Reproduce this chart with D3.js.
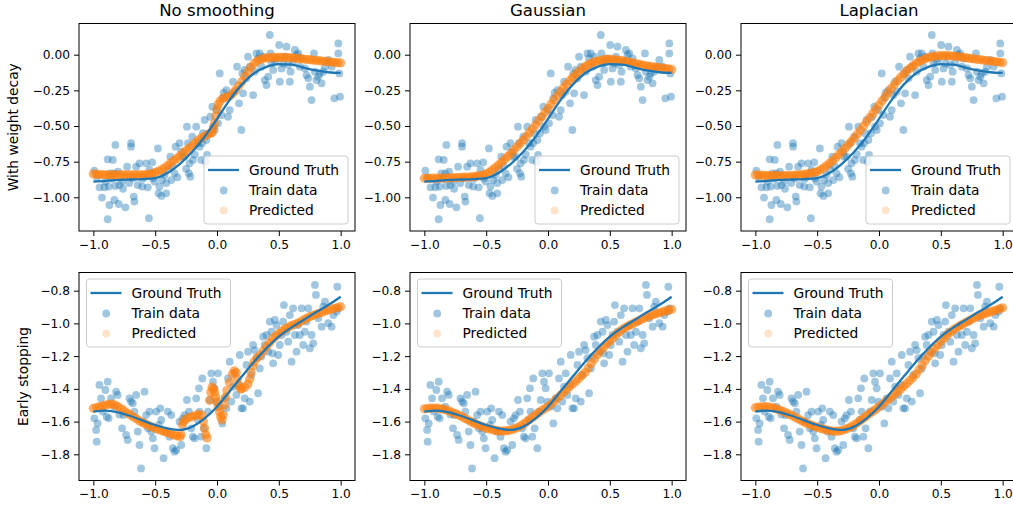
<!DOCTYPE html>
<html><head><meta charset="utf-8">
<script src="https://cdn.jsdelivr.net/npm/d3@7/dist/d3.min.js"></script>
<style>body{margin:0;background:#fff}svg{display:block}</style>
</head><body>
<svg id="c" width="1013" height="506"></svg>
<script>
// ---------- data ----------
const colTitles = ["No smoothing", "Gaussian", "Laplacian"];
const rowLabels = ["With weight decay", "Early stopping"];
const xTicks = [-1, -0.5, 0, 0.5, 1];
const yTicksTop = [0, -0.25, -0.5, -0.75, -1.0];
const yTicksBottom = [-0.8, -1.0, -1.2, -1.4, -1.6, -1.8];
const legendLabels = ["Ground Truth", "Train data", "Predicted"];

const gtX = [-1,-0.9,-0.8,-0.7,-0.6,-0.5,-0.4,-0.3,-0.2,-0.1,0,0.1,0.2,0.3,0.4,0.5,0.6,0.7,0.8,0.9,1];
const gtTopY = [-0.89,-0.885,-0.878,-0.875,-0.872,-0.865,-0.83,-0.765,-0.68,-0.575,-0.45,-0.32,-0.21,-0.13,-0.085,-0.066,-0.07,-0.09,-0.11,-0.123,-0.128];
const gtBottomY = [-1.539,-1.533,-1.543,-1.566,-1.594,-1.621,-1.641,-1.651,-1.631,-1.58,-1.509,-1.417,-1.325,-1.234,-1.152,-1.081,-1.026,-0.979,-0.932,-0.888,-0.837];

const trainTop = [[-0.992,-0.813],[-0.93,-1.002],[-0.903,-0.89],[-0.884,-0.734],[-0.876,-0.925],[-0.87,-1.054],[-0.862,-0.832],[-0.843,-0.738],[-0.83,-0.832],[-0.822,-0.633],[-0.822,-0.92],[-0.884,-1.154],[-0.83,-1.019],[-0.795,-1.047],[-0.789,-0.914],[-0.768,-0.89],[-0.741,-1.07],[-0.727,-0.785],[-0.695,-0.621],[-0.695,-0.645],[-0.681,-0.867],[-0.673,-0.995],[-0.668,-1.03],[-0.654,-0.785],[-0.641,-0.914],[-0.627,-0.762],[-0.605,-0.925],[-0.586,-0.855],[-0.573,-0.762],[-0.551,-1.147],[-0.546,-0.808],[-0.524,-0.755],[-0.519,-0.867],[-0.505,-0.89],[-0.478,-0.657],[-0.473,-0.972],[-0.465,-0.925],[-0.443,-0.879],[-0.424,-0.843],[-0.411,-0.972],[-0.397,-0.804],[-0.378,-0.715],[-0.37,-0.879],[-0.343,-0.832],[-0.335,-0.645],[-0.303,-0.621],[-0.289,-0.68],[-0.281,-0.715],[-0.262,-0.715],[-0.243,-0.505],[-0.235,-0.621],[-0.227,-0.832],[-0.222,-0.762],[-0.216,-0.855],[-0.2,-0.575],[-0.195,-0.738],[-0.168,-0.505],[-0.154,-0.621],[-0.141,-0.645],[-0.127,-0.738],[-0.114,-0.551],[-0.1,-0.458],[-0.086,-0.598],[-0.081,-0.703],[-0.065,-0.551],[-0.054,-0.435],[-0.038,-0.364],[-0.032,-0.505],[-0.019,-0.528],[-0.005,-0.388],[0.008,-0.481],[0.022,-0.131],[0.035,-0.423],[0.043,-0.306],[0.054,-0.266],[0.076,-0.248],[0.089,-0.435],[0.103,-0.388],[0.116,-0.283],[0.13,-0.189],[0.143,-0.259],[0.162,-0.084],[0.178,-0.341],[0.197,-0.528],[0.205,-0.131],[0.211,-0.271],[0.224,-0.107],[0.238,-0.166],[0.251,-0.014],[0.265,-0.084],[0.292,-0.283],[0.305,-0.119],[0.319,0.009],[0.332,-0.026],[0.346,0.009],[0.359,-0.084],[0.373,-0.014],[0.386,-0.178],[0.4,-0.213],[0.414,-0.154],[0.427,0.138],[0.432,0.009],[0.441,-0.061],[0.454,-0.107],[0.468,-0.049],[0.481,-0.026],[0.503,0.068],[0.508,-0.189],[0.522,-0.096],[0.535,-0.061],[0.549,-0.014],[0.562,0.056],[0.576,-0.072],[0.589,-0.189],[0.595,-0.119],[0.616,-0.049],[0.63,0.033],[0.643,-0.002],[0.657,0.009],[0.67,-0.084],[0.684,-0.026],[0.711,-0.096],[0.724,-0.143],[0.738,-0.166],[0.751,-0.224],[0.765,-0.318],[0.784,0.009],[0.792,-0.119],[0.805,-0.178],[0.819,-0.154],[0.832,-0.131],[0.846,-0.201],[0.859,-0.119],[0.873,-0.084],[0.9,-0.037],[0.927,-0.084],[0.949,-0.306],[0.981,0.079],[0.981,0.009],[0.989,-0.131],[0.995,-0.294],[-0.97,-0.86],[-0.95,-0.93],[-0.91,-0.93],[-0.85,-0.87],[-0.8,-0.82],[-0.76,-0.94],[-0.71,-0.9],[-0.6,-0.87],[-0.56,-0.93],[-0.45,-0.99],[-0.41,-0.9],[-0.36,-0.78],[-0.32,-0.86],[-0.25,-0.8],[-0.18,-0.7],[-0.12,-0.62],[-0.09,-0.75]];

const trainBottom = [[-0.992,-1.58],[-0.978,-1.651],[-0.973,-1.723],[-0.965,-1.611],[-0.951,-1.376],[-0.938,-1.458],[-0.924,-1.539],[-0.903,-1.407],[-0.892,-1.57],[-0.884,-1.356],[-0.876,-1.58],[-0.857,-1.458],[-0.83,-1.509],[-0.816,-1.417],[-0.803,-1.437],[-0.789,-1.556],[-0.768,-1.641],[-0.757,-1.56],[-0.735,-1.682],[-0.722,-1.712],[-0.708,-1.458],[-0.695,-1.478],[-0.681,-1.488],[-0.668,-1.539],[-0.654,-1.437],[-0.641,-1.661],[-0.627,-1.743],[-0.614,-1.886],[-0.6,-1.6],[-0.586,-1.417],[-0.573,-1.56],[-0.559,-1.641],[-0.546,-1.539],[-0.532,-1.661],[-0.519,-1.702],[-0.505,-1.763],[-0.492,-1.539],[-0.47,-1.621],[-0.459,-1.519],[-0.451,-1.59],[-0.432,-1.824],[-0.416,-1.661],[-0.397,-1.539],[-0.384,-1.692],[-0.37,-1.56],[-0.357,-1.763],[-0.343,-1.784],[-0.33,-1.774],[-0.303,-1.6],[-0.289,-1.743],[-0.276,-1.58],[-0.262,-1.56],[-0.243,-1.468],[-0.227,-1.539],[-0.208,-1.641],[-0.195,-1.692],[-0.181,-1.702],[-0.168,-1.458],[-0.154,-1.59],[-0.146,-1.397],[-0.141,-1.539],[-0.127,-1.692],[-0.119,-1.336],[-0.108,-1.641],[-0.086,-1.763],[-0.073,-1.539],[-0.059,-1.468],[-0.046,-1.305],[-0.032,-1.356],[-0.019,-1.397],[-0.005,-1.478],[0.008,-1.305],[0.022,-1.509],[0.043,-1.611],[0.062,-1.458],[0.076,-1.519],[0.089,-1.336],[0.103,-1.234],[0.116,-1.478],[0.13,-1.387],[0.143,-1.305],[0.157,-1.437],[0.178,-1.376],[0.184,-1.193],[0.197,-1.519],[0.211,-1.519],[0.224,-1.458],[0.238,-1.254],[0.251,-1.173],[0.265,-1.478],[0.278,-1.315],[0.292,-1.132],[0.305,-1.163],[0.319,-1.213],[0.332,-1.427],[0.346,-1.275],[0.359,-1.203],[0.373,-1.081],[0.386,-1.132],[0.4,-1.071],[0.414,-1.173],[0.427,-0.989],[0.441,-1.051],[0.449,-1.183],[0.454,-1.244],[0.468,-0.979],[0.481,-1.01],[0.495,-1.193],[0.508,-1.132],[0.522,-1.071],[0.535,-0.989],[0.541,-0.888],[0.562,-1.051],[0.576,-1.112],[0.589,-0.949],[0.603,-1.234],[0.616,-0.908],[0.63,-1.071],[0.643,-1.173],[0.657,-1.01],[0.67,-1.071],[0.684,-0.908],[0.697,-1.132],[0.711,-1.051],[0.724,-0.989],[0.738,-0.908],[0.751,-1.152],[0.765,-1.071],[0.778,-1.122],[0.792,-0.765],[0.8,-0.826],[0.819,-0.969],[0.846,-1.02],[0.859,-0.898],[0.873,-0.867],[0.9,-0.999],[0.927,-1.02],[0.941,-0.949],[0.968,-0.928],[0.973,-0.776],[0.981,-0.908]];

const predX = [-1,-0.975,-0.95,-0.925,-0.9,-0.875,-0.85,-0.825,-0.8,-0.775,-0.75,-0.725,-0.7,-0.675,-0.65,-0.625,-0.6,-0.575,-0.55,-0.525,-0.5,-0.475,-0.45,-0.425,-0.4,-0.375,-0.35,-0.325,-0.3,-0.275,-0.25,-0.225,-0.2,-0.175,-0.15,-0.125,-0.1,-0.075,-0.05,-0.025,0,0.025,0.05,0.075,0.1,0.125,0.15,0.175,0.2,0.225,0.25,0.275,0.3,0.325,0.35,0.375,0.4,0.425,0.45,0.475,0.5,0.525,0.55,0.575,0.6,0.625,0.65,0.675,0.7,0.725,0.75,0.775,0.8,0.825,0.85,0.875,0.9,0.925,0.95,0.975,1];

const predTopGaussY = [-0.867,-0.867,-0.867,-0.866,-0.866,-0.866,-0.865,-0.865,-0.864,-0.863,-0.862,-0.861,-0.86,-0.859,-0.858,-0.857,-0.855,-0.852,-0.848,-0.843,-0.836,-0.824,-0.808,-0.791,-0.773,-0.754,-0.734,-0.713,-0.692,-0.669,-0.646,-0.622,-0.598,-0.572,-0.546,-0.52,-0.493,-0.464,-0.435,-0.405,-0.376,-0.346,-0.317,-0.288,-0.259,-0.232,-0.206,-0.182,-0.159,-0.138,-0.118,-0.1,-0.084,-0.071,-0.06,-0.051,-0.044,-0.039,-0.035,-0.033,-0.033,-0.034,-0.036,-0.039,-0.042,-0.047,-0.052,-0.056,-0.061,-0.066,-0.07,-0.075,-0.079,-0.082,-0.085,-0.088,-0.091,-0.094,-0.097,-0.1,-0.103];
const predTopLapY = [-0.843,-0.844,-0.845,-0.846,-0.847,-0.847,-0.848,-0.848,-0.848,-0.848,-0.848,-0.847,-0.846,-0.845,-0.843,-0.841,-0.838,-0.835,-0.831,-0.826,-0.82,-0.808,-0.795,-0.779,-0.762,-0.743,-0.722,-0.701,-0.68,-0.657,-0.634,-0.61,-0.586,-0.558,-0.529,-0.5,-0.47,-0.441,-0.412,-0.382,-0.353,-0.323,-0.294,-0.265,-0.236,-0.209,-0.183,-0.159,-0.136,-0.115,-0.095,-0.077,-0.061,-0.048,-0.037,-0.028,-0.021,-0.015,-0.011,-0.008,-0.007,-0.007,-0.007,-0.008,-0.009,-0.012,-0.015,-0.018,-0.021,-0.024,-0.027,-0.03,-0.033,-0.036,-0.039,-0.041,-0.044,-0.047,-0.05,-0.053,-0.056];
const predBottomGaussY = [-1.522,-1.52,-1.518,-1.517,-1.518,-1.52,-1.524,-1.529,-1.535,-1.543,-1.551,-1.56,-1.569,-1.579,-1.589,-1.6,-1.61,-1.618,-1.626,-1.633,-1.64,-1.645,-1.65,-1.654,-1.657,-1.658,-1.657,-1.655,-1.651,-1.645,-1.637,-1.627,-1.616,-1.602,-1.588,-1.573,-1.559,-1.546,-1.533,-1.52,-1.508,-1.492,-1.475,-1.458,-1.44,-1.422,-1.405,-1.387,-1.37,-1.353,-1.336,-1.318,-1.3,-1.273,-1.245,-1.217,-1.19,-1.167,-1.145,-1.126,-1.108,-1.089,-1.07,-1.052,-1.037,-1.026,-1.016,-1.006,-0.996,-0.987,-0.978,-0.969,-0.961,-0.954,-0.947,-0.941,-0.935,-0.929,-0.924,-0.919,-0.914];
const predBottomLapY = [-1.515,-1.512,-1.51,-1.509,-1.51,-1.513,-1.518,-1.523,-1.53,-1.538,-1.547,-1.556,-1.565,-1.575,-1.585,-1.595,-1.605,-1.613,-1.621,-1.628,-1.635,-1.641,-1.646,-1.651,-1.655,-1.658,-1.66,-1.658,-1.655,-1.648,-1.64,-1.631,-1.62,-1.607,-1.593,-1.579,-1.565,-1.551,-1.537,-1.524,-1.51,-1.495,-1.48,-1.465,-1.45,-1.434,-1.418,-1.401,-1.385,-1.367,-1.349,-1.33,-1.31,-1.283,-1.255,-1.227,-1.2,-1.177,-1.154,-1.132,-1.11,-1.091,-1.072,-1.055,-1.04,-1.028,-1.017,-1.006,-0.995,-0.985,-0.975,-0.965,-0.955,-0.948,-0.942,-0.936,-0.93,-0.924,-0.918,-0.911,-0.905];

const predTopNone = [[-1,-0.836],[-0.975,-0.838],[-0.95,-0.84],[-0.925,-0.84],[-0.9,-0.842],[-0.875,-0.842],[-0.85,-0.843],[-0.825,-0.843],[-0.8,-0.843],[-0.775,-0.843],[-0.75,-0.843],[-0.725,-0.843],[-0.7,-0.843],[-0.675,-0.843],[-0.65,-0.843],[-0.625,-0.842],[-0.6,-0.842],[-0.575,-0.84],[-0.55,-0.838],[-0.525,-0.834],[-0.5,-0.826],[-0.475,-0.818],[-0.45,-0.808],[-0.425,-0.793],[-0.4,-0.778],[-0.375,-0.76],[-0.35,-0.743],[-0.325,-0.727],[-0.3,-0.71],[-0.275,-0.69],[-0.25,-0.673],[-0.225,-0.655],[-0.2,-0.638],[-0.175,-0.618],[-0.15,-0.598],[-0.125,-0.583],[-0.1,-0.57],[-0.075,-0.56],[-0.05,-0.551],[-0.04,-0.545],[-0.03,-0.52],[-0.02,-0.48],[-0.01,-0.43],[0,-0.38],[0.01,-0.35],[0.025,-0.325],[0.05,-0.306],[0.075,-0.298],[0.1,-0.292],[0.125,-0.272],[0.15,-0.248],[0.175,-0.22],[0.2,-0.189],[0.225,-0.153],[0.25,-0.119],[0.275,-0.088],[0.3,-0.061],[0.325,-0.045],[0.35,-0.033],[0.375,-0.027],[0.4,-0.023],[0.425,-0.02],[0.45,-0.019],[0.475,-0.019],[0.5,-0.019],[0.525,-0.019],[0.55,-0.019],[0.575,-0.02],[0.6,-0.021],[0.625,-0.023],[0.65,-0.026],[0.675,-0.028],[0.7,-0.03],[0.725,-0.033],[0.75,-0.035],[0.775,-0.038],[0.8,-0.04],[0.825,-0.042],[0.85,-0.044],[0.875,-0.047],[0.9,-0.049],[0.925,-0.052],[0.95,-0.054],[0.975,-0.056],[1,-0.058]];

const predBottomNone = [[-1,-1.519],[-0.975,-1.514],[-0.95,-1.509],[-0.925,-1.504],[-0.9,-1.499],[-0.875,-1.494],[-0.85,-1.493],[-0.825,-1.499],[-0.8,-1.509],[-0.775,-1.522],[-0.75,-1.535],[-0.725,-1.548],[-0.7,-1.56],[-0.675,-1.572],[-0.65,-1.584],[-0.625,-1.596],[-0.6,-1.607],[-0.575,-1.616],[-0.55,-1.625],[-0.525,-1.633],[-0.5,-1.641],[-0.475,-1.648],[-0.45,-1.655],[-0.425,-1.662],[-0.4,-1.668],[-0.375,-1.675],[-0.35,-1.682],[-0.325,-1.687],[-0.3,-1.692],[-0.29,-1.68],[-0.28,-1.62],[-0.27,-1.6],[-0.25,-1.585],[-0.225,-1.575],[-0.2,-1.57],[-0.175,-1.563],[-0.15,-1.556],[-0.125,-1.56],[-0.11,-1.6],[-0.1,-1.64],[-0.09,-1.68],[-0.08,-1.7],[-0.06,-1.47],[-0.05,-1.42],[-0.04,-1.39],[-0.03,-1.4],[-0.02,-1.42],[-0.01,-1.45],[0,-1.48],[0.01,-1.51],[0.02,-1.54],[0.03,-1.57],[0.04,-1.59],[0.05,-1.56],[0.06,-1.5],[0.07,-1.45],[0.08,-1.41],[0.1,-1.36],[0.125,-1.31],[0.14,-1.29],[0.155,-1.3],[0.165,-1.34],[0.175,-1.38],[0.19,-1.4],[0.2,-1.4],[0.225,-1.39],[0.25,-1.37],[0.265,-1.34],[0.275,-1.3],[0.29,-1.26],[0.3,-1.235],[0.325,-1.21],[0.35,-1.193],[0.375,-1.167],[0.4,-1.142],[0.425,-1.118],[0.45,-1.095],[0.475,-1.077],[0.5,-1.061],[0.525,-1.047],[0.55,-1.034],[0.575,-1.024],[0.6,-1.014],[0.625,-1.007],[0.65,-1.0],[0.675,-0.99],[0.7,-0.979],[0.725,-0.969],[0.75,-0.959],[0.775,-0.952],[0.8,-0.945],[0.825,-0.938],[0.85,-0.932],[0.875,-0.925],[0.9,-0.918],[0.925,-0.913],[0.95,-0.908],[0.975,-0.903],[1,-0.898]];

// ---------- layout ----------
const FONT = "DejaVu Sans, Liberation Sans, sans-serif";
const BLUE = "#1f77b4", ORANGE = "#ff7f0e";
const colLeft = [79, 410, 741], panelW = 276;
const rowTop = [23.5, 272.5], rowBottom = [231, 480.5];
const yDomains = [[-1.2363, 0.2188], [-1.96, -0.689]];
const xDomain = [-1.116, 1.116];

const zip = (xs, ys) => xs.map((x, i) => [x, ys[i]]);
const panels = [
  {r:0, c:0, train: trainTop, gtY: gtTopY, pred: predTopNone},
  {r:0, c:1, train: trainTop, gtY: gtTopY, pred: zip(predX, predTopGaussY)},
  {r:0, c:2, train: trainTop, gtY: gtTopY, pred: zip(predX, predTopLapY)},
  {r:1, c:0, train: trainBottom, gtY: gtBottomY, pred: predBottomNone},
  {r:1, c:1, train: trainBottom, gtY: gtBottomY, pred: zip(predX, predBottomGaussY)},
  {r:1, c:2, train: trainBottom, gtY: gtBottomY, pred: zip(predX, predBottomLapY)}
];

const svg = d3.select("#c").style("font-family", FONT);

panels.forEach(p => {
  const L = colLeft[p.c], T = rowTop[p.r], B = rowBottom[p.r];
  const x = d3.scaleLinear().domain(xDomain).range([L, L + panelW]);
  const y = d3.scaleLinear().domain(yDomains[p.r]).range([B, T]);
  const g = svg.append("g");

  // train points
  g.append("g").selectAll("circle").data(p.train).join("circle")
    .attr("cx", d => x(d[0])).attr("cy", d => y(d[1])).attr("r", 3.9)
    .attr("fill", BLUE).attr("fill-opacity", 0.42);
  // predicted points
  g.append("g").selectAll("circle").data(p.pred).join("circle")
    .attr("cx", d => x(d[0])).attr("cy", d => y(d[1])).attr("r", 4.6)
    .attr("fill", ORANGE).attr("fill-opacity", 0.62);
  // ground truth
  const line = d3.line().x(d => x(d[0])).y(d => y(d[1])).curve(d3.curveMonotoneX);
  g.append("path").datum(zip(gtX, p.gtY)).attr("d", line)
    .attr("fill", "none").attr("stroke", BLUE).attr("stroke-width", 2.3);

  // axes
  const yt = p.r === 0 ? yTicksTop : yTicksBottom;
  const yf = p.r === 0 ? d3.format(".2f") : d3.format(".1f");
  const ax = g.append("g").attr("transform", `translate(0,${B})`)
    .call(d3.axisBottom(x).tickValues(xTicks).tickFormat(d3.format(".1f")).tickSize(5).tickPadding(4));
  const ay = g.append("g").attr("transform", `translate(${L},0)`)
    .call(d3.axisLeft(y).tickValues(yt).tickFormat(yf).tickSize(5).tickPadding(4));
  [ax, ay].forEach(a => {
    a.select(".domain").remove();
    a.selectAll("line").attr("stroke", "#000").attr("stroke-width", 1);
    a.selectAll("text").attr("fill", "#000").style("font-size", "12.2px").style("font-family", FONT);
  });

  // frame
  g.append("rect").attr("x", L).attr("y", T).attr("width", panelW).attr("height", B - T)
    .attr("fill", "none").attr("stroke", "#000").attr("stroke-width", 1);

  // legend
  const lw = 144, lh = 68;
  const lx = p.r === 0 ? L + panelW - 7 - lw : L + 7.5;
  const ly = p.r === 0 ? B - 7 - lh : T + 6.5;
  const lg = g.append("g");
  lg.append("rect").attr("x", lx).attr("y", ly).attr("width", lw).attr("height", lh)
    .attr("rx", 3).attr("fill", "#fff").attr("fill-opacity", 0.8)
    .attr("stroke", "#cccccc").attr("stroke-width", 1);
  const rows = [ly + 14, ly + 34.5, ly + 54.5];
  lg.append("line").attr("x1", lx + 4).attr("x2", lx + 35).attr("y1", rows[0]).attr("y2", rows[0])
    .attr("stroke", BLUE).attr("stroke-width", 2.3);
  lg.append("circle").attr("cx", lx + 19.7).attr("cy", rows[1]).attr("r", 3.9)
    .attr("fill", BLUE).attr("fill-opacity", 0.42);
  lg.append("circle").attr("cx", lx + 19.7).attr("cy", rows[2]).attr("r", 3.9)
    .attr("fill", ORANGE).attr("fill-opacity", 0.22);
  legendLabels.forEach((t, i) => {
    lg.append("text").attr("x", lx + 45).attr("y", rows[i]).attr("dy", "0.36em")
      .style("font-size", "13.8px").attr("fill", "#000").text(t);
  });
});

// column titles
colTitles.forEach((t, c) => {
  svg.append("text").attr("x", colLeft[c] + panelW / 2).attr("y", 15.5)
    .attr("text-anchor", "middle").style("font-size", "16.6px").attr("fill", "#000").text(t);
});
// row labels
const rowLabelX = [17.5, 28];
rowLabels.forEach((t, r) => {
  const cy = (rowTop[r] + rowBottom[r]) / 2;
  svg.append("text").attr("transform", `translate(${rowLabelX[r]},${cy}) rotate(-90)`)
    .attr("text-anchor", "middle").style("font-size", "13.8px").attr("fill", "#000").text(t);
});
</script>
</body></html>
